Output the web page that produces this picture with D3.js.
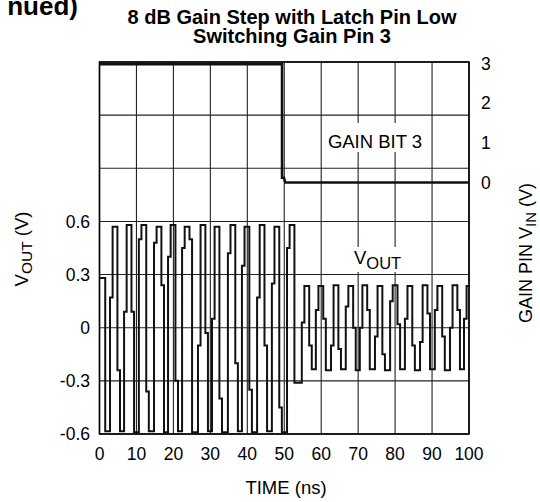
<!DOCTYPE html>
<html>
<head>
<meta charset="utf-8">
<script src="https://cdn.jsdelivr.net/npm/d3@7"></script>
<style>
  body { margin: 0; background: #fff; }
  text { font-family: Arial, "Liberation Sans", sans-serif; fill: #000; }
</style>
</head>
<body>
<div id="main"></div>
<script>
// axis ticks
const timeTicks = [0, 10, 20, 30, 40, 50, 60, 70, 80, 90, 100];
const voutTicks = [-0.6, -0.3, 0, 0.3, 0.6];
const voutLabels = ['-0.6', '-0.3', '0', '0.3', '0.6'];
const voutGrid = [-0.6, -0.3, 0, 0.3, 0.6, 0.9, 1.2, 1.5];
const gainTicks = [0, 1, 2, 3];

// gain bit 3 trace (ns, V)
const gainTime = [0, 49.4, 49.4, 49.9, 50.3, 100];
const gainVolt = [2.98, 2.98, 0.12, 0.12, 0.0, 0.0];

// VOUT trace, one entry per cycle (ns, V)
const peakTime = [0.2, 4.2, 8.0, 12.0, 16.1, 19.9, 23.7, 28.0, 31.8, 36.1, 39.9, 44.0, 48.0, 52.1,
                  56.1, 59.9, 64.0, 68.0, 71.8, 75.9, 80.0, 84.0, 88.1, 92.1, 96.2, 100.0];
const peakTop  = [0.28, 0.57, 0.58, 0.58, 0.57, 0.58, 0.57, 0.58, 0.57, 0.58, 0.57, 0.58, 0.57, 0.58,
                  0.235, 0.235, 0.24, 0.235, 0.24, 0.235, 0.24, 0.235, 0.24, 0.235, 0.24, 0.235];
const riseStep = [0, 0.17, 0.09, 0.50, 0.48, 0.40, 0.45, -0.10, 0.05, 0.42, 0.35, 0.17, 0.25, 0.45,
                  0.03, 0.10, -0.10, 0.12, 0.0, -0.05, 0.15, 0.05, -0.08, 0.10, 0.0, 0.05];
const fallStep = [0.28, -0.24, 0.09, -0.36, 0.24, -0.30, 0.50, -0.03, -0.40, -0.20, -0.35, -0.10, -0.45, -0.31,
                  -0.10, 0.05, -0.12, 0.0, 0.10, -0.15, 0.02, -0.10, 0.08, -0.05, 0.10, 0.0];
const lowLevel = [-0.585, -0.585, -0.59, -0.585, -0.59, -0.585, -0.59, -0.585, -0.59, -0.585, -0.59, -0.585, -0.59, -0.31,
                  -0.235, -0.24, -0.235, -0.24, -0.235, -0.24, -0.235, -0.24, -0.235, -0.24, -0.235, -0.24];

const W = 540, H = 502;
const svg = d3.select('#main').append('svg')
  .attr('width', W)
  .attr('height', H);

const x = d3.scaleLinear().domain([0, 100]).range([99.5, 469]);
const yL = d3.scaleLinear().domain([-0.6, 1.5]).range([434, 62]);
const yR = d3.scaleLinear().domain([0, 3]).range([182.5, 63.5]);

// cut-off heading at top left
svg.append('text')
  .attr('x', 78).attr('y', 15)
  .attr('text-anchor', 'end')
  .style('font-size', '26px').style('font-weight', 'bold')
  .text('nued)');

// title
const title = ['8 dB Gain Step with Latch Pin Low', 'Switching Gain Pin 3'];
svg.selectAll('text.title')
  .data(title)
  .enter()
  .append('text')
    .attr('class', 'title')
    .attr('x', 292)
    .attr('y', (d, i) => 24 + i * 19)
    .attr('text-anchor', 'middle')
    .style('font-size', '20px')
    .style('font-weight', 'bold')
    .text(d => d);

// grid
svg.selectAll('line.vgrid')
  .data(timeTicks)
  .enter()
  .append('line')
    .attr('class', 'vgrid')
    .attr('x1', d => x(d)).attr('x2', d => x(d))
    .attr('y1', yL(1.5)).attr('y2', yL(-0.6))
    .attr('stroke', '#222').attr('stroke-width', 1.1);

svg.selectAll('line.hgrid')
  .data(voutGrid)
  .enter()
  .append('line')
    .attr('class', 'hgrid')
    .attr('x1', x(0)).attr('x2', x(100))
    .attr('y1', d => yL(d)).attr('y2', d => yL(d))
    .attr('stroke', '#222').attr('stroke-width', 1.1);

// white boxes behind the in-plot labels
svg.append('rect').attr('x', 322).attr('y', 123).attr('width', 106).attr('height', 29).attr('fill', '#fff');
svg.append('rect').attr('x', 347).attr('y', 247).attr('width', 60).attr('height', 25).attr('fill', '#fff');

// border
svg.append('rect')
  .attr('x', x(0)).attr('y', yL(1.5))
  .attr('width', x(100) - x(0)).attr('height', yL(-0.6) - yL(1.5))
  .attr('fill', 'none').attr('stroke', '#000').attr('stroke-width', 1.6);

svg.append('clipPath').attr('id', 'plotclip')
  .append('rect')
    .attr('x', x(0)).attr('y', yL(1.5) - 2)
    .attr('width', x(100) - x(0)).attr('height', yL(-0.6) - yL(1.5) + 4);

// VOUT trace
const voutPts = [];
peakTime.forEach((p, i) => {
  const prevLow = i === 0 ? lowLevel[0] : lowLevel[i - 1];
  voutPts.push(
    [p - 1.35, prevLow], [p - 1.35, riseStep[i]], [p - 0.65, riseStep[i]], [p - 0.65, peakTop[i]],
    [p + 0.65, peakTop[i]], [p + 0.65, fallStep[i]], [p + 1.35, fallStep[i]], [p + 1.35, lowLevel[i]]
  );
});

svg.append('path')
  .datum(voutPts)
  .attr('clip-path', 'url(#plotclip)')
  .attr('fill', 'none')
  .attr('stroke', '#111')
  .attr('stroke-width', 2)
  .attr('d', d3.line().x(d => x(d[0])).y(d => yL(d[1])));

// gain bit trace
svg.append('path')
  .datum(gainTime.map((t, i) => [t, gainVolt[i]]))
  .attr('clip-path', 'url(#plotclip)')
  .attr('fill', 'none')
  .attr('stroke', '#111')
  .attr('stroke-width', 2.6)
  .attr('d', d3.line().x(d => x(d[0])).y(d => yR(d[1])));

// tick labels
svg.selectAll('text.xt')
  .data(timeTicks)
  .enter()
  .append('text')
    .attr('class', 'xt')
    .attr('x', d => x(d)).attr('y', 460)
    .attr('text-anchor', 'middle')
    .style('font-size', '17.5px')
    .text(d => d);

svg.selectAll('text.yl')
  .data(voutTicks)
  .enter()
  .append('text')
    .attr('class', 'yl')
    .attr('x', 90).attr('y', d => yL(d) + 6.3)
    .attr('text-anchor', 'end')
    .style('font-size', '17.5px')
    .text((d, i) => voutLabels[i]);

svg.selectAll('text.yr')
  .data(gainTicks)
  .enter()
  .append('text')
    .attr('class', 'yr')
    .attr('x', 481).attr('y', d => yR(d) + 6.3)
    .attr('text-anchor', 'start')
    .style('font-size', '17.5px')
    .text(d => d);

// axis titles
svg.append('text')
  .attr('x', 286).attr('y', 494)
  .attr('text-anchor', 'middle')
  .style('font-size', '18.5px')
  .text('TIME (ns)');

const yLab = svg.append('text')
  .attr('transform', 'translate(28,249) rotate(-90)')
  .attr('text-anchor', 'middle')
  .style('font-size', '18.5px');
yLab.append('tspan').text('V');
yLab.append('tspan').attr('dy', 4).style('font-size', '15.5px').text('OUT');
yLab.append('tspan').attr('dy', -4).text(' (V)');

const rLab = svg.append('text')
  .attr('transform', 'translate(532,253) rotate(-90)')
  .attr('text-anchor', 'middle')
  .style('font-size', '18px');
rLab.append('tspan').text('GAIN PIN V');
rLab.append('tspan').attr('dy', 4).style('font-size', '15px').text('IN');
rLab.append('tspan').attr('dy', -4).text(' (V)');

// in-plot labels
svg.append('text')
  .attr('x', 375).attr('y', 148)
  .attr('text-anchor', 'middle')
  .style('font-size', '18.5px')
  .text('GAIN BIT 3');

const vLab = svg.append('text')
  .attr('x', 354).attr('y', 264)
  .style('font-size', '18.5px');
vLab.append('tspan').text('V');
vLab.append('tspan').attr('dy', 5).style('font-size', '16.5px').text('OUT');
</script>
</body>
</html>
